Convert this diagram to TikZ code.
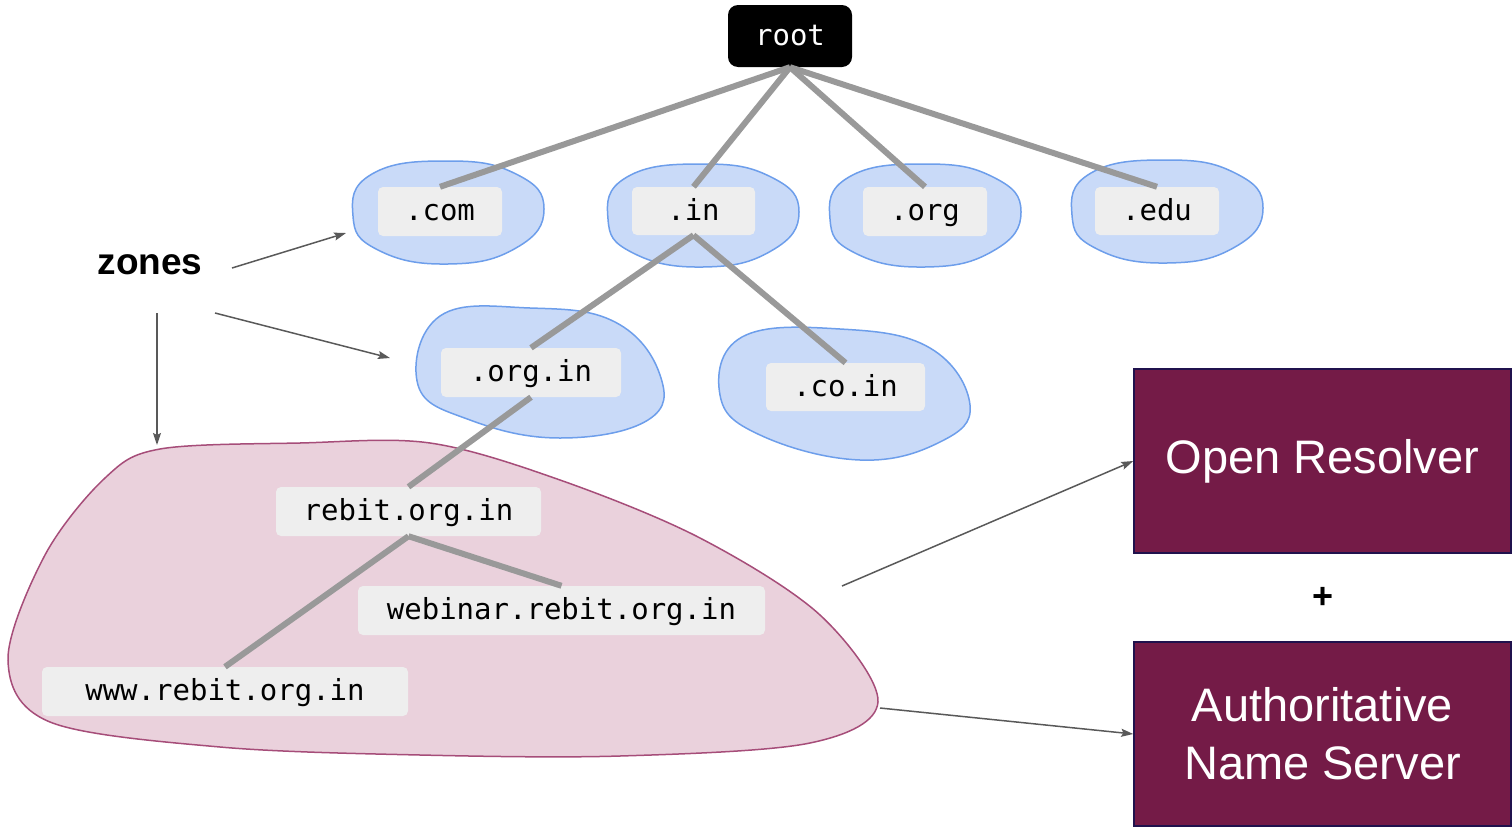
\documentclass[tikz,border=0pt]{standalone}
\usepackage{fontspec}
\setmainfont{Liberation Sans}
\newfontfamily\monof{DejaVu Sans Mono}
\usetikzlibrary{arrows.meta}
\definecolor{lblgray}{HTML}{EEEEEE}
\definecolor{treegray}{HTML}{999999}
\definecolor{arrgray}{HTML}{595959}
\definecolor{blobfill}{HTML}{C9DAF8}
\definecolor{blobline}{HTML}{6D9EEB}
\definecolor{pinkfill}{HTML}{EAD1DC}
\definecolor{pinkline}{HTML}{A64D79}
\definecolor{maroon}{HTML}{741B47}
\definecolor{maroonline}{HTML}{20124D}
\tikzset{
  lblbox/.style={fill=lblgray, rounded corners=5pt, inner sep=0pt, text=black,
    text height=21pt, text depth=3pt,
    font=\monof\fontsize{29}{33}\selectfont},
  rootbox/.style={fill=black, rounded corners=10pt, inner sep=0pt, text=white,
    text height=21pt, text depth=3pt,
    font=\monof\fontsize{29}{33}\selectfont},
  treeline/.style={draw=treegray, line width=6pt},
  zarrow/.style={draw=arrgray, line width=1.5pt, -{Stealth[length=12pt,width=8pt,inset=2pt]}},
  blueblob/.style={fill=blobfill, draw=blobline, line width=1.5pt},
  pinkblob/.style={fill=pinkfill, draw=pinkline, line width=1.5pt},
  serverbox/.style={fill=maroon, draw=maroonline, line width=1.5pt, inner sep=0pt,
    text=white, align=center, font=\fontsize{47}{58}\selectfont}
}
\begin{document}
\begin{tikzpicture}[x=1pt,y=-1pt]
\useasboundingbox (0,0) rectangle (1512,827);

% zone blobs
\foreach \c in {(448,212),(703,215),(925,215),(1167,211)}
  \draw[blueblob, shift={\c}] plot[smooth cycle, tension=0.8] coordinates
   {(96,-3) (68,36) (0,52) (-70,38) (-95,4) (-76,-38) (0,-51) (68,-38)};
\draw[blueblob] plot[smooth cycle, tension=0.7] coordinates
  {(440,316) (530,308) (615,322) (660,375) (648,420) (560,438) (470,420) (418,385)};
\draw[blueblob] plot[smooth cycle, tension=0.7] coordinates
  {(742,337) (840,329) (930,348) (970,405) (940,442) (860,460) (760,435) (720,395)};
\draw[pinkblob] plot[smooth cycle, tension=0.55] coordinates
  {(160,449) (300,443) (430,443) (560,480) (700,538) (820,615) (878,702) (810,743)
   (620,756) (420,755) (220,747) (50,722) (8,660) (45,555) (105,478)};

% nodes
\node[rootbox, minimum width=124pt, minimum height=62pt] (root) at (790,36) {root};
\node[lblbox, minimum width=124pt, minimum height=49pt] (com) at (440,211.5) {.com};
\node[lblbox, minimum width=123pt, minimum height=48pt] (in) at (693.5,211) {.in};
\node[lblbox, minimum width=124pt, minimum height=49pt] (org) at (925,211.5) {.org};
\node[lblbox, minimum width=124pt, minimum height=48pt] (edu) at (1157,211) {.edu};
\node[lblbox, minimum width=180pt, minimum height=49pt] (orgin) at (531,372.5) {.org.in};
\node[lblbox, minimum width=159pt, minimum height=48pt] (coin) at (845.5,387) {.co.in};
\node[lblbox, minimum width=265pt, minimum height=49pt] (rebit) at (408.5,511.5) {rebit.org.in};
\node[lblbox, minimum width=407pt, minimum height=49pt] (webinar) at (561.5,610.5) {webinar.rebit.org.in};
\node[lblbox, minimum width=366pt, minimum height=49pt] (www) at (225,691.5) {www.rebit.org.in};

\node[serverbox, minimum width=377pt, minimum height=184pt] (resolver) at (1322.5,461) {Open Resolver};
\node[serverbox, minimum width=377pt, minimum height=184pt] (auth) at (1322.5,734) {Authoritative\\Name Server};
\node[font=\bfseries\fontsize{36}{40}\selectfont, inner sep=0pt] (plus) at (1323,598) {+};
\node[font=\bfseries\fontsize{37}{42}\selectfont, inner sep=0pt] (zones) at (150,265) {zones};

% tree connectors
\draw[treeline] (root.south) -- (com.north);
\draw[treeline] (root.south) -- (in.north);
\draw[treeline] (root.south) -- (org.north);
\draw[treeline] (root.south) -- (edu.north);
\draw[treeline] (in.south) -- (orgin.north);
\draw[treeline] (in.south) -- (coin.north);
\draw[treeline] (orgin.south) -- (rebit.north);
\draw[treeline] (rebit.south) -- (webinar.north);
\draw[treeline] (rebit.south) -- (www.north);

% arrows
\coordinate (z1s) at (232,268); \coordinate (z1e) at (346,233);
\coordinate (z2s) at (215,313); \coordinate (z2e) at (390,358);
\coordinate (z3s) at (157,313); \coordinate (z3e) at (157,445);
\coordinate (p1s) at (842,586);
\coordinate (p2s) at (880,708);
\draw[zarrow] (z1s) -- (z1e);
\draw[zarrow] (z2s) -- (z2e);
\draw[zarrow] (z3s) -- (z3e);
\draw[zarrow] (p1s) -- (resolver.west);
\draw[zarrow] (p2s) -- (auth.west);
\end{tikzpicture}
\end{document}
